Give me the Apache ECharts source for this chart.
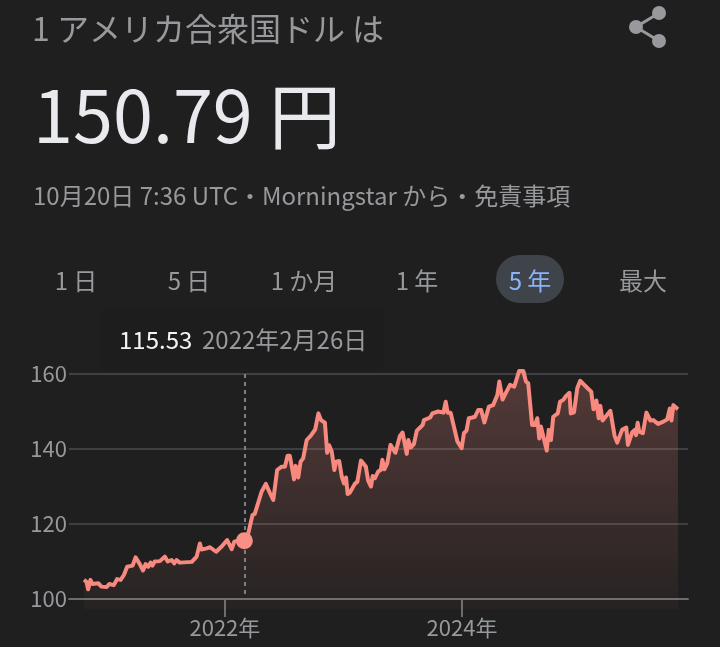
<!DOCTYPE html>
<html>
<head>
<meta charset="utf-8">
<title>USD/JPY</title>
<script src="https://cdn.jsdelivr.net/npm/echarts@6/dist/echarts.min.js"></script>
<style>
html, body { margin: 0; padding: 0; background: #1f1f1f; }
#chart { width: 720px; height: 647px; }
</style>
</head>
<body>
<div id="chart"></div>
<script>
var dates = [
    '2020-10-24','2020-11-01','2020-11-06','2020-11-13','2020-11-19','2020-12-07','2020-12-17',
    '2021-01-02','2021-01-10','2021-01-24','2021-02-03','2021-02-14','2021-02-24','2021-03-06','2021-03-23',
    '2021-04-01','2021-04-14','2021-04-24','2021-05-02','2021-05-10','2021-05-17','2021-05-23','2021-05-30',
    '2021-06-15','2021-06-30','2021-07-09','2021-07-21','2021-07-29','2021-08-05','2021-08-15','2021-09-21',
    '2021-10-06','2021-10-16','2021-10-21','2021-11-06','2021-11-16','2021-12-05','2021-12-22',
    '2022-01-08','2022-01-22','2022-01-30','2022-02-16','2022-03-02','2022-03-14','2022-03-27','2022-04-03',
    '2022-04-24','2022-05-07','2022-05-20','2022-05-30','2022-06-11','2022-06-25','2022-07-05','2022-07-13',
    '2022-07-20','2022-08-02','2022-08-07','2022-08-15','2022-08-22','2022-08-30','2022-09-10','2022-09-22',
    '2022-10-06','2022-10-16','2022-10-24','2022-11-05','2022-11-12','2022-11-18','2022-11-26','2022-12-04',
    '2022-12-09','2022-12-19','2022-12-27',
    '2023-01-03','2023-01-09','2023-01-14','2023-01-21','2023-02-05','2023-02-13','2023-02-24','2023-03-11',
    '2023-03-18','2023-03-27','2023-04-01','2023-04-08','2023-04-18','2023-04-26','2023-05-01','2023-05-07',
    '2023-05-16','2023-05-26','2023-06-10','2023-06-24','2023-07-02','2023-07-15','2023-07-20','2023-07-27',
    '2023-08-06','2023-08-15','2023-09-02','2023-09-06','2023-09-25','2023-10-02','2023-10-20','2023-11-05',
    '2023-11-12','2023-11-18','2023-11-27','2023-12-18','2023-12-24','2023-12-31',
    '2024-01-07','2024-01-15','2024-01-22','2024-02-02','2024-02-10','2024-02-20','2024-02-29','2024-03-10',
    '2024-03-15','2024-03-24','2024-04-06','2024-04-19','2024-04-25','2024-05-01','2024-05-05','2024-05-16',
    '2024-05-28','2024-06-10','2024-06-25','2024-07-08','2024-07-16','2024-07-23','2024-08-04','2024-08-13',
    '2024-08-20','2024-08-26','2024-08-31','2024-09-06','2024-09-18','2024-09-24','2024-10-01','2024-10-08',
    '2024-10-22','2024-10-29','2024-11-08','2024-11-16','2024-11-27','2024-12-01','2024-12-11','2024-12-21',
    '2024-12-30','2025-01-07','2025-01-13','2025-01-22','2025-02-02','2025-02-09','2025-02-18','2025-02-25',
    '2025-03-02','2025-03-09','2025-04-02','2025-04-15','2025-04-23','2025-05-08','2025-05-21','2025-05-26',
    '2025-06-08','2025-06-16','2025-06-20','2025-06-25','2025-06-30','2025-07-11','2025-07-22','2025-08-03',
    '2025-08-12','2025-08-27','2025-09-12','2025-09-24','2025-10-02','2025-10-07','2025-10-13','2025-10-27'
];
var rates = [
    105.1,104.6,102.6,105.1,104,104.2,103.3,
    103.2,104,103.7,105.3,105.1,106.4,108.6,108.9,
    111.1,109.3,107.6,109.3,108.6,109.7,108.9,110,
    110.1,111.3,110,110.4,109.5,110.4,109.7,109.9,
    111.3,114.8,113.2,113.5,113.8,112.6,114,
    115.7,113.3,115.3,115.7,115.53,117.5,122.4,122.7,
    128.6,130.7,128.2,126.4,134.4,135.3,135.3,138.2,
    138.2,131.9,135.5,132.4,136.6,137.5,142.4,143.5,
    145.2,149.5,147.7,147,139,141,139.3,134.4,
    136.6,136.8,132.6,
    130.8,132.4,128,128.4,130.7,131.3,136.9,135.3,
    131.6,130,132.8,132.2,134,134.4,137.1,134.6,
    136.2,141.1,139,143.5,144.4,138.7,142.4,140.4,
    141.3,144.9,146.4,147.7,148.4,149.5,150,149.7,
    152.6,149.7,149.7,142,142.4,140.2,
    144.2,144.9,148.2,148.4,148.6,150.4,150.4,147.1,
    147.1,151.3,151.7,154.4,158,158,153.2,155.1,
    157.1,156.6,160.8,160.8,158,157.5,146.4,146.4,
    148.2,142.8,146,146,139.6,145.1,142.4,148.6,
    149.5,152.6,153.1,154.1,155,149.5,149.8,156.2,
    158.2,157.5,158,156.2,155.3,150.6,152.9,148.2,
    151.5,147.6,150.2,143.5,141.7,145.1,145.7,141.1,
    144.4,145.1,143.7,147,144.6,144.2,149.7,147.6,
    147.7,146.7,147.3,147.9,150.8,147.6,151.7,150.6
];
var yearTicks = ['2022-01-01', '2024-01-01'];
var ranges = ['1 日', '5 日', '1 か月', '1 年', '5 年', '最大'];
var rangeCenters = [76, 189, 304, 417, 530, 643];
var activeRange = 4;
// 元の図では破線が 2/26 の暦位置より少し右にある
var hoverDate = '2022-03-02';
var hoverRate = 115.53;

var grey = '#97999c';
var salmon = '#f7897f';
var jpFont = '"Noto Sans CJK JP", sans-serif';

var chart = echarts.init(document.getElementById('chart'));

// 時間軸だと customValues が落ちるので数値軸にタイムスタンプで載せる
var seriesData = dates.map(function (d, i) {
    return [Date.parse(d), rates[i]];
});
var tickTimes = yearTicks.map(function (d) {
    return Date.parse(d);
});
var hoverTime = Date.parse(hoverDate);

function label(x, y, text, size, color, align) {
    return {
        type: 'text',
        x: x,
        y: y,
        z: 20,
        style: {
            text: text,
            fontFamily: jpFont,
            fontSize: size,
            fill: color,
            align: align || 'left',
            verticalAlign: 'middle'
        }
    };
}

var graphics = [
    label(32, 29, '1 アメリカ合衆国ドル は', 32, grey),
    label(33, 116, '150.79 円', 72, '#e8eaed'),
    label(33, 196, '10月20日 7:36 UTC・Morningstar から・免責事項', 24, grey),
    // 共有アイコン
    { type: 'polyline', z: 20, shape: { points: [[659, 13], [636, 27], [659, 41]] }, style: { stroke: grey, lineWidth: 3, fill: null } },
    { type: 'circle', z: 20, shape: { cx: 659, cy: 13, r: 7 }, style: { fill: grey } },
    { type: 'circle', z: 20, shape: { cx: 636, cy: 27, r: 7 }, style: { fill: grey } },
    { type: 'circle', z: 20, shape: { cx: 659, cy: 41, r: 7 }, style: { fill: grey } },
    // 期間ボタン
    { type: 'rect', z: 10, shape: { x: 496, y: 255, width: 68, height: 48, r: 24 }, style: { fill: '#3f444a' } },
    // ツールチップ
    {
        type: 'rect', z: 10,
        shape: { x: 102, y: 311, width: 280, height: 57, r: 4 },
        style: { fill: '#1d1d1d', shadowBlur: 4, shadowColor: 'rgba(0,0,0,0.12)' }
    },
    label(119, 340, '115.53', 24, '#f1f3f4'),
    label(202, 340, '2022年2月26日', 24, grey)
];
ranges.forEach(function (r, i) {
    graphics.push(label(rangeCenters[i], 281, r, 24, i === activeRange ? '#8ab4f8' : grey, 'center'));
});

var option = {
    backgroundColor: '#1f1f1f',
    animation: false,
    grid: { left: 69, right: 32, top: 374, bottom: 48 },
    xAxis: {
        type: 'value',
        min: Date.parse('2020-09-08'),
        max: Date.parse('2025-11-27'),
        splitLine: { show: false },
        axisLine: { lineStyle: { color: '#6b6d70', width: 2 } },
        axisTick: {
            customValues: tickTimes,
            length: 18,
            lineStyle: { color: '#6b6d70', width: 2 }
        },
        axisLabel: {
            customValues: tickTimes,
            margin: 18,
            fontSize: 22,
            fontFamily: jpFont,
            color: grey,
            formatter: function (v) {
                return new Date(v).getUTCFullYear() + '年';
            }
        }
    },
    yAxis: {
        type: 'value',
        min: 100,
        max: 160,
        interval: 20,
        axisLine: { show: false },
        axisTick: { show: false },
        axisLabel: { margin: 2, fontSize: 22, fontFamily: jpFont, color: grey },
        splitLine: { lineStyle: { color: '#3e4043', width: 2 } }
    },
    series: [
        {
            type: 'line',
            data: seriesData,
            showSymbol: false,
            clip: false,
            lineStyle: { color: salmon, width: 4, join: 'round' },
            areaStyle: {
                origin: 97.3,
                color: new echarts.graphic.LinearGradient(0, 0, 0, 1, [
                    { offset: 0, color: 'rgba(242,139,130,0.36)' },
                    { offset: 1, color: 'rgba(242,139,130,0.05)' }
                ])
            },
            markLine: {
                silent: true,
                symbol: 'none',
                label: { show: false },
                lineStyle: { color: '#7d7f82', type: [4, 4], width: 2 },
                data: [[{ coord: [hoverTime, 160] }, { coord: [hoverTime, 100.6] }]]
            }
        },
        {
            type: 'scatter',
            data: [[hoverTime, hoverRate]],
            symbolSize: 17,
            itemStyle: { color: '#fa8f86', opacity: 1 },
            z: 5
        }
    ],
    graphic: graphics
};

chart.setOption(option);
</script>
</body>
</html>
